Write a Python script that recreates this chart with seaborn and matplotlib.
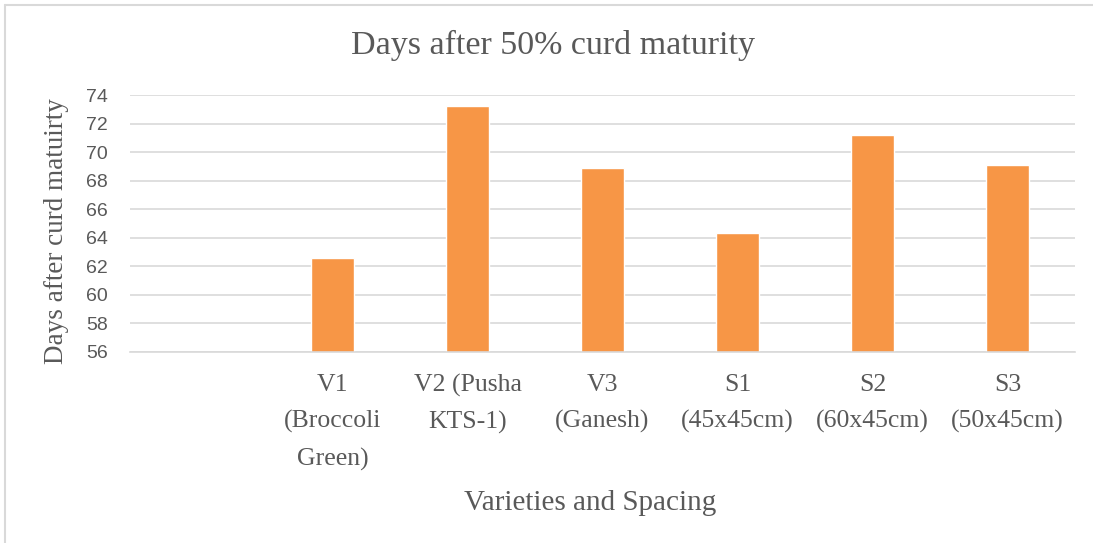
import matplotlib
matplotlib.use("Agg")
import matplotlib.pyplot as plt
import matplotlib.lines as mlines
import seaborn as sns
import pandas as pd

# Data
categories = ["V1\n(Broccoli\nGreen)", "V2 (Pusha\nKTS-1)", "V3\n(Ganesh)",
              "S1\n(45x45cm)", "S2\n(60x45cm)", "S3\n(50x45cm)"]
days = [62.6, 73.2, 68.9, 64.3, 71.2, 69.1]
blank_slot = [" "]  # empty leading category in the original chart
y_ticks = [56, 58, 60, 62, 64, 66, 68, 70, 72, 74]

sns.set_theme(style="white")
plt.rcParams['font.family'] = ['Liberation Serif', 'DejaVu Serif']

df = pd.DataFrame({'cat': categories, 'days': days})

fig = plt.figure(figsize=(10.93, 5.43), dpi=100)
ax = fig.add_axes([0.119, 0.352, 0.8645, 0.473])

sns.barplot(data=df, x='cat', y='days', order=blank_slot + categories,
            color='#F79646', saturation=1, width=0.315, ax=ax)

ax.set_ylim(y_ticks[0], y_ticks[-1])
ax.set_yticks(y_ticks)
ax.set_yticklabels([str(t) for t in y_ticks], family='Liberation Sans',
                   fontsize=14, color='#595959')
ax.tick_params(axis='both', length=0)
ax.tick_params(axis='y', pad=16)
ax.tick_params(axis='x', pad=16)
for lbl in ax.get_xticklabels():
    lbl.set_fontsize(18.5)
    lbl.set_color('#595959')
    lbl.set_linespacing(1.8)

ax.yaxis.grid(True, color='#d9d9d9', linewidth=1.2)
ax.set_axisbelow(True)
for s in ['top', 'right', 'left']:
    ax.spines[s].set_visible(False)
ax.spines['bottom'].set_color('#d9d9d9')
ax.spines['bottom'].set_linewidth(1.2)

ax.set_ylabel('Days after curd matuirty', fontsize=19.5, color='#595959')
ax.yaxis.set_label_coords(-0.078, 0.47)
ax.set_xlabel('Varieties and Spacing', fontsize=21, color='#595959')
ax.xaxis.set_label_coords(0.487, -0.59)
ax.xaxis.label.set_va('center')
ax.yaxis.label.set_va('center')
fig.text(0.506, 0.917, 'Days after 50% curd maturity', ha='center', va='center',
         fontsize=24.5, color='#595959')

# chart frame: only top and left edges show in the original
fig.lines.append(mlines.Line2D([0.005, 1.0], [0.991, 0.991], transform=fig.transFigure,
                               color='#d9d9d9', linewidth=1.5))
fig.lines.append(mlines.Line2D([0.005, 0.005], [0.0, 0.991], transform=fig.transFigure,
                               color='#d9d9d9', linewidth=1.5))

fig.savefig('out.png', dpi=100)
